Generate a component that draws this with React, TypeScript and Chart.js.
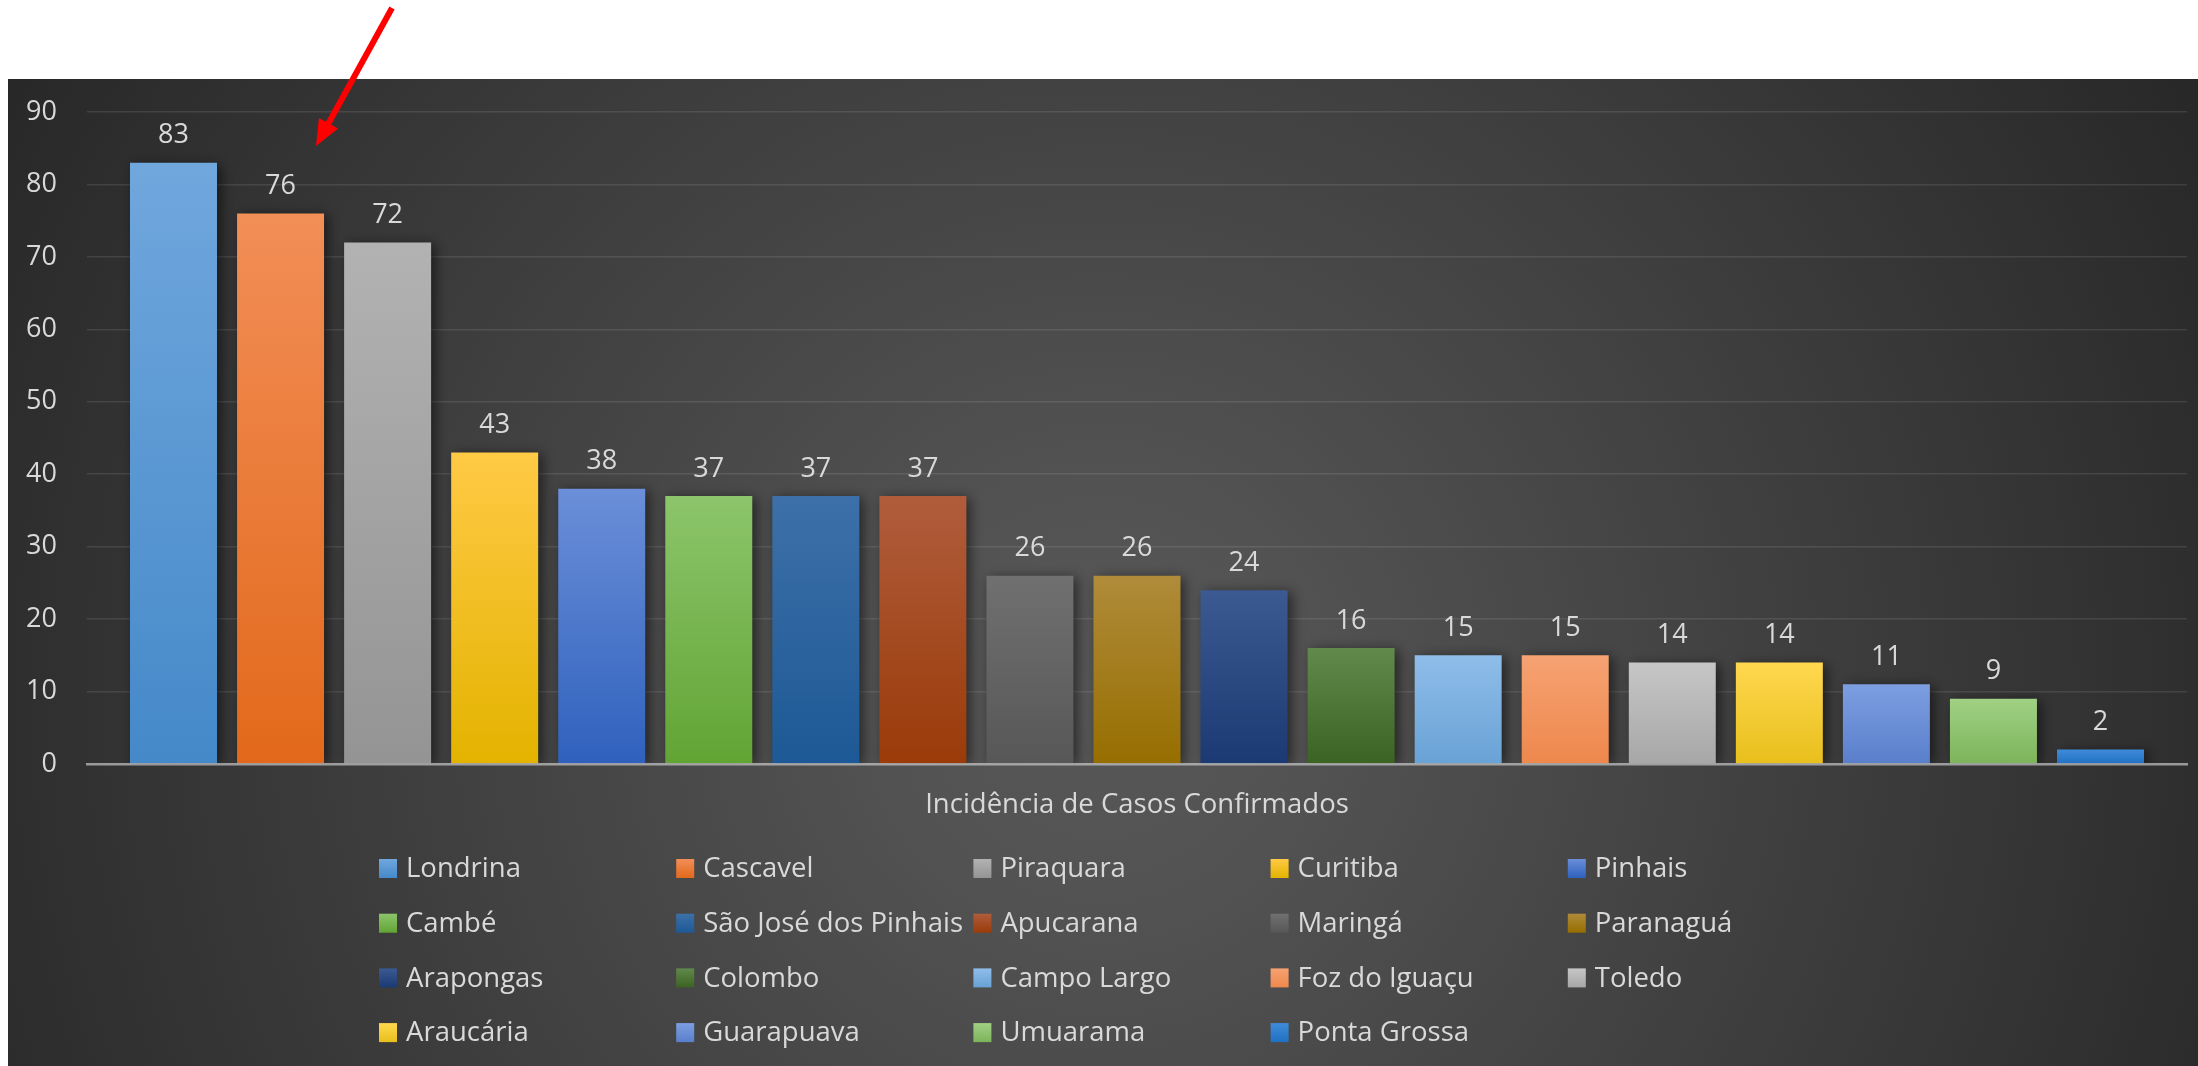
import React, { useEffect, useRef } from "react";
import { Chart, registerables } from "chart.js";

Chart.register(...registerables);

// ---------- data ----------
const categories = ["Incidência de Casos Confirmados"];
const cities = [
  "Londrina", "Cascavel", "Piraquara", "Curitiba", "Pinhais",
  "Cambé", "São José dos Pinhais", "Apucarana", "Maringá", "Paranaguá",
  "Arapongas", "Colombo", "Campo Largo", "Foz do Iguaçu", "Toledo",
  "Araucária", "Guarapuava", "Umuarama", "Ponta Grossa",
];
const cases = [83, 76, 72, 43, 38, 37, 37, 37, 26, 26, 24, 16, 15, 15, 14, 14, 11, 9, 2];
const topColors = [
  "#70a7dd", "#f28e57", "#b2b2b2", "#ffca45", "#6b8fd8",
  "#8cc56b", "#3d70a8", "#b05c3c", "#707070", "#b08b3a",
  "#3c5a92", "#61894b", "#8fbde9", "#f6a272", "#c6c6c6",
  "#ffd84f", "#7c9ee1", "#a0d184", "#3f8bd9",
];
const bottomColors = [
  "#4589c9", "#e2691b", "#949494", "#e3b300", "#2f61bd",
  "#62a434", "#1d5996", "#9a3b09", "#575757", "#966e00",
  "#1b3972", "#3b6423", "#69a2d6", "#ee884d", "#a7a7a7",
  "#e8bf1c", "#5a7fcb", "#7db45a", "#2170c2",
];
const yMin = 0;
const yMax = 90;
const yStep = 10;

// ---------- styling / layout ----------
const W = 2198;
const H = 1066;
const TEXT = "#d9d9d9";
const FONT = "'Open Sans', 'Noto Sans', sans-serif";

const barGradient = (ctx: any, i: number) => {
  const chart = ctx.chart;
  const ys = chart.scales && chart.scales.y;
  if (!ys || !chart.chartArea) return bottomColors[i];
  const v = ctx.raw !== undefined ? ctx.raw : cases[i];
  const top = ys.getPixelForValue(v);
  const bottom = ys.getPixelForValue(0);
  if (!isFinite(top) || !isFinite(bottom) || top === bottom) return bottomColors[i];
  const g = chart.ctx.createLinearGradient(0, top, 0, bottom);
  g.addColorStop(0, topColors[i]);
  g.addColorStop(1, bottomColors[i]);
  return g;
};

const backgroundPlugin = {
  id: "panelBackground",
  beforeDraw(chart: any) {
    const c = chart.ctx;
    c.save();
    c.fillStyle = "#ffffff";
    c.fillRect(0, 0, W, H);
    const x0 = 8, y0 = 79;
    const g = c.createRadialGradient(1100, 700, 0, 1100, 700, 1300);
    g.addColorStop(0, "#575757");
    g.addColorStop(0.15, "#535353");
    g.addColorStop(1, "#262626");
    c.fillStyle = g;
    c.fillRect(x0, y0, W - x0, H - y0);
    c.restore();
  },
};

const shadowPlugin = {
  id: "barShadow",
  beforeDatasetsDraw(chart: any) {
    const c = chart.ctx;
    c.save();
    c.shadowColor = "rgba(0,0,0,0.55)";
    c.shadowBlur = 12;
    c.shadowOffsetX = 4;
    c.shadowOffsetY = 2;
  },
  afterDatasetsDraw(chart: any) {
    chart.ctx.restore();
  },
};

const valueLabelPlugin = {
  id: "valueLabels",
  afterDatasetsDraw(chart: any) {
    const c = chart.ctx;
    c.save();
    c.font = `27px ${FONT}`;
    c.fillStyle = TEXT;
    c.textAlign = "center";
    c.textBaseline = "middle";
    chart.data.datasets.forEach((ds: any, i: number) => {
      const meta = chart.getDatasetMeta(i);
      meta.data.forEach((el: any, j: number) => {
        c.fillText(String(ds.data[j]), el.x, el.y - 27);
      });
    });
    c.restore();
  },
};

const legendPlugin = {
  id: "gridLegend",
  afterDraw(chart: any) {
    const c = chart.ctx;
    const cols = 5;
    const left = 379;
    const colW = 297.2;
    const row0 = 868.5;
    const rowH = 54.7;
    const boxW = 18;
    const boxH = 19;
    c.save();
    c.font = `27.5px ${FONT}`;
    c.textAlign = "left";
    c.textBaseline = "middle";
    chart.data.datasets.forEach((ds: any, i: number) => {
      const col = i % cols;
      const row = Math.floor(i / cols);
      const x = left + col * colW;
      const y = row0 + row * rowH;
      const g = c.createLinearGradient(0, y - boxH / 2, 0, y + boxH / 2);
      g.addColorStop(0, topColors[i]);
      g.addColorStop(1, bottomColors[i]);
      c.fillStyle = g;
      c.fillRect(x, y - boxH / 2, boxW, boxH);
      c.fillStyle = TEXT;
      c.fillText(ds.label, x + 27, y + 1);
    });
    c.restore();
  },
};

const arrowPlugin = {
  id: "redArrow",
  afterDraw(chart: any) {
    const c = chart.ctx;
    const sx = 392, sy = 8, tx = 316, ty = 146;
    const dx = tx - sx, dy = ty - sy;
    const len = Math.hypot(dx, dy);
    const ux = dx / len, uy = dy / len;
    const headL = 26, headW = 11;
    const bx = tx - ux * headL, by = ty - uy * headL;
    c.save();
    c.strokeStyle = "#ff0000";
    c.fillStyle = "#ff0000";
    c.lineWidth = 6;
    c.beginPath();
    c.moveTo(sx, sy);
    c.lineTo(bx + ux * 2, by + uy * 2);
    c.stroke();
    c.beginPath();
    c.moveTo(tx, ty);
    c.lineTo(bx - uy * headW, by + ux * headW);
    c.lineTo(bx + uy * headW, by - ux * headW);
    c.closePath();
    c.fill();
    c.restore();
  },
};

export default function App() {
  const canvasRef = useRef<HTMLCanvasElement | null>(null);

  useEffect(() => {
    const canvas = canvasRef.current;
    if (!canvas) return;
    Chart.defaults.font.family = FONT;

    const datasets = cities.map((name, i) => ({
      label: name,
      data: [cases[i]],
      backgroundColor: (ctx: any) => barGradient(ctx, i),
      borderWidth: 0,
    }));

    const chart = new Chart(canvas, {
      type: "bar",
      data: { labels: categories, datasets },
      options: {
        responsive: false,
        animation: false,
        devicePixelRatio: 1,
        layout: { padding: { top: 112, right: 11, bottom: 242, left: 0 } },
        datasets: { bar: { categoryPercentage: 0.9686, barPercentage: 0.8126 } } as any,
        plugins: {
          legend: { display: false },
          tooltip: { enabled: false },
        },
        scales: {
          x: {
            grid: { display: false, drawTicks: false },
            border: { display: true, color: "rgba(210,210,210,0.65)", width: 2.5, z: 1 } as any,
            ticks: { color: TEXT, font: { size: 27.5, family: FONT }, padding: 25 },
            afterFit: (s: any) => {
              s.height = 60;
            },
          },
          y: {
            min: yMin,
            max: yMax,
            ticks: { stepSize: yStep, color: TEXT, font: { size: 27, family: FONT }, padding: 30 },
            grid: {
              color: (c: any) => (c.tick && c.tick.value === 0 ? "rgba(0,0,0,0)" : "rgba(255,255,255,0.1)"),
              lineWidth: 1.5,
              drawTicks: false,
            },
            border: { display: false },
            afterFit: (s: any) => {
              s.width = 87;
            },
          },
        },
      },
      plugins: [backgroundPlugin, shadowPlugin, valueLabelPlugin, legendPlugin, arrowPlugin],
    });

    return () => chart.destroy();
  }, []);

  return (
    <div style={{ position: "fixed", left: 0, top: 0, width: W, height: H, overflow: "hidden", background: "#fff" }}>
      <canvas ref={canvasRef} width={W} height={H} style={{ display: "block", width: W, height: H }} />
    </div>
  );
}
